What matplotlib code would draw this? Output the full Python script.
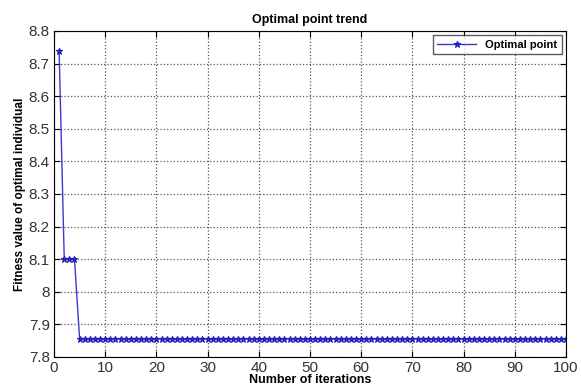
import matplotlib
matplotlib.use('Agg')
import matplotlib.pyplot as plt

plt.rcParams['font.family'] = ['Liberation Sans', 'DejaVu Sans']

# iterations and best fitness per iteration
iterations = list(range(1, 101))
fitness = [8.74, 8.10, 8.10, 8.10] + [7.856] * 96

fig = plt.figure(figsize=(5.81, 3.88), dpi=100)
ax = fig.add_axes([54 / 581, 31 / 388, 512 / 581, 326 / 388])

ax.plot(iterations, fitness, color='#3a3ad0', linewidth=1.0, marker='*',
        markersize=5, markeredgewidth=0.8, markeredgecolor='#1a1ab8',
        label='Optimal point')

ax.set_xlim(0, 100)
ax.set_ylim(7.8, 8.8)
ax.set_xticks(range(0, 101, 10))
ax.set_yticks([7.8, 7.9, 8.0, 8.1, 8.2, 8.3, 8.4, 8.5, 8.6, 8.7, 8.8])
ax.set_yticklabels(['7.8', '7.9', '8', '8.1', '8.2', '8.3', '8.4', '8.5',
                    '8.6', '8.7', '8.8'])
ax.tick_params(direction='in', top=True, right=True, labelsize=11,
               labelcolor='#333333', length=4, pad=3)
ax.grid(True, linestyle=':', color='#555555', linewidth=0.9)

ax.set_title('Optimal point trend', fontsize=9, fontweight='bold', pad=6)
ax.set_xlabel('Number of iterations', fontsize=9, fontweight='bold', labelpad=-1)
ax.set_ylabel('Fitness value of optimal individual', fontsize=8.5,
              fontweight='bold', labelpad=2)

leg = ax.legend(loc='upper right', fontsize=8, frameon=True, fancybox=False,
                handlelength=3.5, borderpad=0.4, borderaxespad=0.4)
leg.get_frame().set_edgecolor('#333333')
for t in leg.get_texts():
    t.set_fontweight('bold')

fig.savefig('out.png', dpi=100)
